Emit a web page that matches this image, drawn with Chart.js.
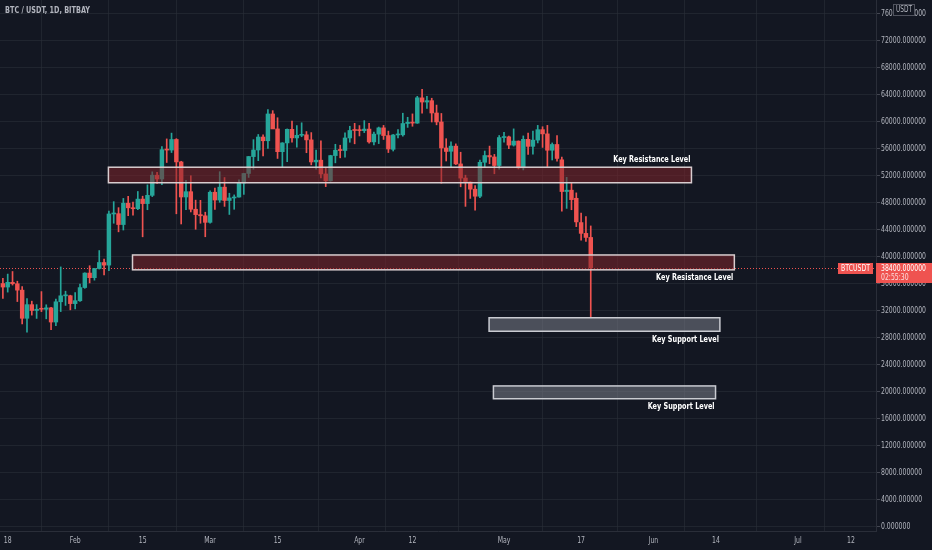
<!DOCTYPE html>
<html>
<head>
<meta charset="utf-8">
<title>BTC / USDT, 1D, BITBAY</title>
<script src="https://cdn.jsdelivr.net/npm/chart.js@4.4.1/dist/chart.umd.min.js"></script>
<style>
    html, body { margin: 0; padding: 0; background: #131722; }
    #caixa { width: 932px; height: 550px; position: relative; }
</style>
</head>
<body>
<div id="caixa"><canvas id="grafico-btc"></canvas></div>
<script>
// candles diarios, 17 jan -> 19 mai
const dias = [
    "01-17","01-18","01-19","01-20","01-21","01-22","01-23","01-24","01-25","01-26","01-27","01-28","01-29","01-30","01-31",
    "02-01","02-02","02-03","02-04","02-05","02-06","02-07","02-08","02-09","02-10","02-11","02-12","02-13","02-14",
    "02-15","02-16","02-17","02-18","02-19","02-20","02-21","02-22","02-23","02-24","02-25","02-26","02-27","02-28",
    "03-01","03-02","03-03","03-04","03-05","03-06","03-07","03-08","03-09","03-10","03-11","03-12","03-13","03-14",
    "03-15","03-16","03-17","03-18","03-19","03-20","03-21","03-22","03-23","03-24","03-25","03-26","03-27","03-28",
    "03-29","03-30","03-31",
    "04-01","04-02","04-03","04-04","04-05","04-06","04-07","04-08","04-09","04-10","04-11","04-12","04-13","04-14",
    "04-15","04-16","04-17","04-18","04-19","04-20","04-21","04-22","04-23","04-24","04-25","04-26","04-27","04-28",
    "04-29","04-30",
    "05-01","05-02","05-03","05-04","05-05","05-06","05-07","05-08","05-09","05-10","05-11","05-12","05-13","05-14",
    "05-15","05-16","05-17","05-18","05-19"
];

const abertura = [
    36069, 35548, 36248, 36039, 35091, 30919, 32940, 32078, 32260, 32254, 32465, 30366, 33368, 34247, 34262,
    33092, 33518, 35472, 37620, 36936, 38289, 39182, 38796, 46375, 46420, 44807, 47968, 47298, 47156,
    48580, 47911, 49133, 52117, 51553, 55907, 55841, 57413, 54087, 48891, 49677, 47074, 46277, 46103,
    45134, 49595, 48436, 50349, 48374, 48746, 48882, 50959, 52376, 54875, 55851, 57773, 57221, 61188,
    58976, 55605, 56901, 58913, 57641, 58030, 58100, 57351, 54083, 54342, 52303, 51293, 55025, 55817,
    55777, 57635, 58746,
    58740, 58720, 58950, 57051, 58202, 59129, 57990, 55953, 58080, 58102, 59775, 59964, 59835, 63576,
    62959, 63159, 61334, 60006, 56150, 55663, 56425, 53788, 51695, 51111, 50047, 49004, 54030, 55036,
    54824, 53555,
    57697, 57797, 56578, 57169, 53205, 57436, 56393, 57315, 58866, 58240, 55816, 56670, 54400, 49700,
    49900, 48700, 45100, 43500, 42900
];

const maxima = [
    36852, 37469, 37850, 36415, 35600, 33826, 33456, 32945, 34875, 32921, 32557, 33783, 38531, 34934, 34342,
    34717, 35984, 37662, 38708, 38310, 40955, 39700, 46794, 48200, 47311, 48678, 48985, 48150, 49707,
    49010, 50689, 52618, 52530, 56368, 57493, 58352, 57533, 54183, 51374, 52041, 48424, 48393, 46638,
    49791, 50200, 52640, 51773, 49448, 49200, 51450, 52402, 54895, 57387, 58150, 58081, 61844, 61683,
    60633, 56938, 58974, 60129, 59468, 59880, 58589, 58430, 55830, 57200, 53230, 55073, 56700, 56559,
    58400, 59368, 59800,
    59469, 60200, 59791, 58492, 59251, 59495, 58650, 58153, 58894, 61300, 60700, 61200, 63800, 64854,
    63800, 63520, 62506, 61263, 57526, 57076, 56757, 55521, 52120, 51167, 50567, 54356, 55700, 56428,
    55200, 58000,
    58458, 57911, 58981, 57200, 57939, 58360, 58650, 59500, 59300, 59500, 56900, 58000, 54800, 51800,
    51000, 49500, 46500, 46000, 44600
];

const minima = [
    33850, 34800, 35844, 33400, 30071, 28850, 31390, 30900, 31910, 30837, 29241, 29842, 31915, 32825, 32171,
    32296, 33418, 35362, 36161, 36570, 38215, 37351, 37988, 45000, 43728, 43995, 46125, 46202, 47014,
    42989, 47003, 48947, 50901, 50710, 54000, 55478, 46400, 44892, 47003, 46674, 44106, 45000, 43000,
    45000, 47047, 48100, 47500, 46300, 47070, 48882, 49274, 51789, 53005, 54272, 54962, 56078, 59047,
    54600, 53271, 54124, 57023, 56270, 57820, 55450, 53650, 53000, 51700, 50427, 51225, 53950, 54691,
    54800, 57000, 56769,
    57935, 58428, 56880, 56600, 56800, 57413, 55473, 55700, 57654, 57900, 59200, 59369, 59800, 61301,
    62020, 60000, 59580, 50931, 54221, 53329, 53695, 50400, 47500, 48676, 46930, 48800, 53321, 53813,
    52330, 53013,
    57000, 56035, 56435, 53046, 52900, 55200, 55241, 56900, 56235, 53400, 54370, 54200, 46800, 47200,
    47000, 44500, 42500, 42300, 31000
];

const fechamento = [
    35547, 36248, 36039, 35091, 30919, 32940, 32078, 32260, 32254, 32467, 30366, 33364, 34252, 34262, 33092,
    33526, 35466, 37618, 36936, 38290, 39186, 38795, 46374, 46420, 44807, 47969, 47287, 47153, 48577,
    47911, 49133, 52119, 51552, 55906, 55841, 57408, 54087, 48891, 49677, 47073, 46276, 46106, 45135,
    49587, 48440, 50349, 48374, 48751, 48882, 50971, 52375, 54884, 55851, 57773, 57221, 61188, 58968,
    55605, 56900, 58912, 57648, 58030, 58102, 57351, 54083, 54340, 52303, 51293, 55025, 55817, 55777,
    57635, 58746, 58740,
    58720, 58950, 57051, 58202, 59129, 57991, 56000, 58079, 58102, 59774, 59964, 59834, 63588, 62959,
    63160, 61334, 60006, 56150, 55633, 56425, 53787, 51690, 51125, 50047, 49004, 54021, 55033, 54824,
    53555, 57697,
    57797, 56578, 57169, 53200, 57436, 56393, 57314, 58862, 58240, 55816, 56670, 54600, 49700, 49900,
    48500, 45200, 43500, 42900, 38400
];

// eixo x: dia contado a partir de 17 jan
const posicoesX = [1, 15, 29, 43, 57, 74, 85, 104, 120, 135, 148, 165, 176];
const rotulosX = ["18", "Feb", "15", "Mar", "15", "Apr", "12", "May", "17", "Jun", "14", "Jul", "12"];

const ticksY = [0, 4000, 8000, 12000, 16000, 20000, 24000, 28000, 32000, 36000, 40000,
    44000, 48000, 52000, 56000, 60000, 64000, 68000, 72000, 76000];

// zonas desenhadas no grafico
const zonaNome = ["Key Resistance Level", "Key Resistance Level", "Key Support Level", "Key Support Level"];
const zonaTipo = ["resistencia", "resistencia", "suporte", "suporte"];
const zonaInicio = [21.9, 26.9, 100.9, 101.8];
const zonaFim = [142.9, 151.8, 148.8, 147.9];
const zonaTopo = [53300, 40300, 31000, 20900];
const zonaBase = [51000, 38100, 29000, 19000];
const zonaRotuloAcima = [true, false, false, false];

const simbolo = "BTCUSDT";
const tempoRestante = "02:55:30";

const VERDE = "#26a69a";
const VERMELHO = "#ef5350";
const FONTE = "'DejaVu Sans Condensed', 'DejaVu Sans', sans-serif";
const ESTREITO = 0.76;

const corCandle = (i) => (fechamento[i] >= abertura[i] ? VERDE : VERMELHO);

// texto com largura comprimida (a fonte do original e bem estreita)
const escreverEstreito = (ctx, texto, x, y, alinhamento) => {
    ctx.save();
    ctx.translate(x, y);
    ctx.scale(ESTREITO, 1);
    ctx.textAlign = alinhamento;
    ctx.textBaseline = "middle";
    ctx.fillText(texto, 0, 0);
    ctx.restore();
};

const pluginZonas = {
    id: "zonas",
    beforeDatasetsDraw: (chart) => {
        const { ctx, chartArea, scales } = chart;
        const preco = fechamento[fechamento.length - 1];
        const y = scales.y.getPixelForValue(preco);
        ctx.save();
        ctx.strokeStyle = VERMELHO;
        ctx.lineWidth = 1;
        ctx.setLineDash([1, 2]);
        ctx.beginPath();
        ctx.moveTo(chartArea.left, Math.round(y) + 0.5);
        ctx.lineTo(chartArea.right, Math.round(y) + 0.5);
        ctx.stroke();
        ctx.restore();
    },
    afterDatasetsDraw: (chart) => {
        const { ctx, scales } = chart;
        ctx.save();
        zonaNome.forEach((nome, i) => {
            const x1 = scales.x.getPixelForValue(zonaInicio[i]);
            const x2 = scales.x.getPixelForValue(zonaFim[i]);
            const y1 = scales.y.getPixelForValue(zonaTopo[i]);
            const y2 = scales.y.getPixelForValue(zonaBase[i]);
            ctx.fillStyle = zonaTipo[i] === "resistencia" ? "rgba(128,36,42,0.55)" : "rgba(122,125,136,0.55)";
            ctx.fillRect(x1, y1, x2 - x1, y2 - y1);
            ctx.strokeStyle = zonaTipo[i] === "resistencia" ? "#d8cdcf" : "#c9cbd1";
            ctx.lineWidth = 1.5;
            ctx.strokeRect(x1, y1, x2 - x1, y2 - y1);

            ctx.fillStyle = "#ffffff";
            ctx.font = "bold 9.5px " + FONTE;
            const yTexto = zonaRotuloAcima[i] ? y1 - 8 : y2 + 8;
            escreverEstreito(ctx, nome, x2 - 1, yTexto, "right");
        });
        ctx.restore();
    },
    afterDraw: (chart) => {
        const { ctx, chartArea, scales } = chart;
        ctx.save();

        // rotulos dos eixos
        ctx.fillStyle = "#b2b5be";
        ctx.font = "9px " + FONTE;
        scales.y.ticks.forEach((tick) => {
            const y = scales.y.getPixelForValue(tick.value);
            escreverEstreito(ctx, tick.value.toFixed(6), chartArea.right + 5, y, "left");
        });
        scales.x.ticks.forEach((tick, i) => {
            const x = scales.x.getPixelForValue(tick.value);
            escreverEstreito(ctx, rotulosX[i], x, chartArea.bottom + 10, "center");
        });

        // rotulo do preco atual no eixo
        const preco = fechamento[fechamento.length - 1];
        const y = Math.round(scales.y.getPixelForValue(preco));
        ctx.fillStyle = VERMELHO;
        ctx.fillRect(chartArea.right - 38, y - 5, 35, 11);
        ctx.fillRect(chartArea.right, y - 5, 932 - chartArea.right, 20);
        ctx.fillStyle = "#ffffff";
        ctx.font = "9px " + FONTE;
        escreverEstreito(ctx, simbolo, chartArea.right - 20.5, y + 0.5, "center");
        escreverEstreito(ctx, preco.toFixed(6), chartArea.right + 5, y + 0.5, "left");
        ctx.fillStyle = "rgba(255,255,255,0.8)";
        escreverEstreito(ctx, tempoRestante, chartArea.right + 5, y + 10, "left");

        // titulo
        ctx.fillStyle = "#b2b5be";
        ctx.font = "bold 9.5px " + FONTE;
        escreverEstreito(ctx, "BTC / USDT, 1D, BITBAY", 5, 11, "left");

        // moeda no topo do eixo
        ctx.fillStyle = "#131722";
        ctx.fillRect(893, 4, 22, 11);
        ctx.strokeStyle = "#50535e";
        ctx.lineWidth = 1;
        ctx.strokeRect(893.5, 4.5, 21, 11);
        ctx.fillStyle = "#b2b5be";
        ctx.font = "8.5px " + FONTE;
        escreverEstreito(ctx, "USDT", 904, 10, "center");
        ctx.restore();
    },
};

const desenharGrafico = () => {
    const ctx = document.getElementById("grafico-btc").getContext("2d");

    new Chart(ctx, {
        type: "bar",
        data: {
            datasets: [
                {
                    label: "corpo",
                    data: dias.map((dia, i) => ({ x: i, y: [abertura[i], fechamento[i]] })),
                    backgroundColor: dias.map((dia, i) => corCandle(i)),
                    barThickness: 3.8,
                    minBarLength: 1,
                    grouped: false,
                    order: 0,
                },
                {
                    label: "pavio",
                    data: dias.map((dia, i) => ({ x: i, y: [minima[i], maxima[i]] })),
                    backgroundColor: dias.map((dia, i) => corCandle(i)),
                    barThickness: 1,
                    grouped: false,
                    order: 1,
                },
            ],
        },
        options: {
            responsive: true,
            maintainAspectRatio: false,
            animation: false,
            layout: { padding: 0 },
            plugins: {
                legend: { display: false },
                tooltip: { enabled: false },
            },
            scales: {
                x: {
                    type: "linear",
                    min: -0.6,
                    max: 181.2,
                    offset: false,
                    afterBuildTicks: (escala) => {
                        escala.ticks = posicoesX.map((valor) => ({ value: valor }));
                    },
                    afterFit: (escala) => {
                        escala.height = 19;
                    },
                    ticks: { display: false, autoSkip: false },
                    grid: {
                        color: "rgba(42,46,57,0.6)",
                        drawTicks: false,
                    },
                    border: { display: true, color: "#2a2e39" },
                },
                y: {
                    position: "right",
                    min: -593,
                    max: 78074,
                    afterBuildTicks: (escala) => {
                        escala.ticks = ticksY.map((valor) => ({ value: valor }));
                    },
                    afterFit: (escala) => {
                        escala.width = 56;
                    },
                    ticks: { display: false },
                    grid: {
                        color: "rgba(42,46,57,0.6)",
                        tickColor: "#434651",
                        tickLength: 4,
                    },
                    border: { display: true, color: "#2a2e39" },
                },
            },
        },
        plugins: [pluginZonas],
    });
};

desenharGrafico();
</script>
</body>
</html>
